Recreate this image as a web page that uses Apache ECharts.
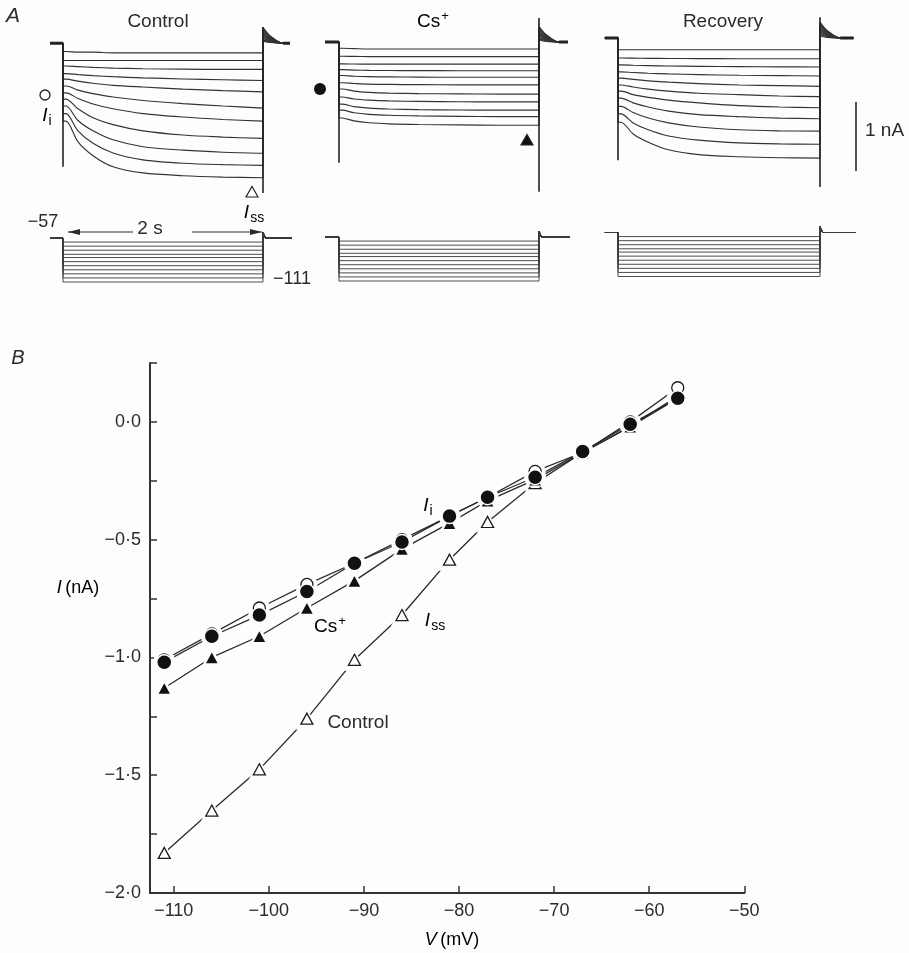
<!DOCTYPE html>
<html>
<head>
<meta charset="utf-8">
<script src="https://cdn.jsdelivr.net/npm/echarts@6/dist/echarts.min.js"></script>
<style>
  html, body { margin: 0; background: #fdfdfd; }
  #chart { width: 909px; height: 953px; }
</style>
</head>
<body>
<div id="chart"></div>
<script>
/* ---- panel A: current traces (nA) sampled at these times (s) ---- */
const STEP_TIMES = [0.03, 0.15, 0.3, 0.5, 0.8, 1.2, 1.6, 2.0]
const STEP_MV = [-62, -67, -72, -77, -81, -86, -91, -96, -101, -106, -111]
const HOLD_MV = -57
const OFF_SPIKE_MV = -50

const CTRL_TRACES = [
  [0.00, -0.01, -0.01, -0.02, -0.02, -0.02, -0.02, -0.02],
  [-0.13, -0.13, -0.13, -0.13, -0.13, -0.13, -0.13, -0.13],
  [-0.21, -0.22, -0.23, -0.24, -0.25, -0.255, -0.26, -0.26],
  [-0.32, -0.335, -0.35, -0.365, -0.382, -0.398, -0.41, -0.42],
  [-0.40, -0.43, -0.46, -0.49, -0.515, -0.545, -0.567, -0.585],
  [-0.50, -0.56, -0.61, -0.66, -0.71, -0.756, -0.79, -0.82],
  [-0.60, -0.68, -0.76, -0.83, -0.90, -0.95, -0.985, -1.01],
  [-0.69, -0.83, -0.96, -1.06, -1.15, -1.21, -1.24, -1.26],
  [-0.79, -1.00, -1.15, -1.28, -1.38, -1.43, -1.46, -1.475],
  [-0.90, -1.15, -1.33, -1.47, -1.57, -1.62, -1.64, -1.65],
  [-1.01, -1.31, -1.51, -1.67, -1.76, -1.80, -1.82, -1.83]
]
const CS_TRACES = [
  [-0.01, -0.015, -0.02, -0.02, -0.02, -0.02, -0.02, -0.02],
  [-0.126, -0.128, -0.13, -0.13, -0.13, -0.13, -0.13, -0.13],
  [-0.236, -0.238, -0.24, -0.24, -0.24, -0.24, -0.24, -0.24],
  [-0.32, -0.326, -0.33, -0.332, -0.334, -0.335, -0.335, -0.335],
  [-0.405, -0.415, -0.421, -0.425, -0.428, -0.43, -0.43, -0.43],
  [-0.51, -0.52, -0.53, -0.534, -0.537, -0.54, -0.54, -0.54],
  [-0.60, -0.63, -0.648, -0.66, -0.667, -0.67, -0.674, -0.674],
  [-0.716, -0.745, -0.762, -0.773, -0.78, -0.785, -0.787, -0.787],
  [-0.82, -0.855, -0.877, -0.89, -0.899, -0.904, -0.907, -0.907],
  [-0.907, -0.944, -0.967, -0.981, -0.99, -0.996, -1.0, -1.0],
  [-1.02, -1.062, -1.089, -1.105, -1.115, -1.121, -1.126, -1.126]
]
const REC_TRACES = [
  [-0.04, -0.04, -0.04, -0.04, -0.04, -0.04, -0.04, -0.04],
  [-0.16, -0.162, -0.164, -0.166, -0.168, -0.17, -0.17, -0.17],
  [-0.26, -0.265, -0.27, -0.275, -0.28, -0.285, -0.288, -0.29],
  [-0.36, -0.37, -0.38, -0.39, -0.40, -0.41, -0.415, -0.42],
  [-0.45, -0.47, -0.49, -0.51, -0.53, -0.55, -0.56, -0.57],
  [-0.55, -0.58, -0.61, -0.64, -0.67, -0.69, -0.71, -0.72],
  [-0.64, -0.69, -0.73, -0.77, -0.81, -0.85, -0.87, -0.88],
  [-0.74, -0.81, -0.87, -0.93, -0.98, -1.01, -1.03, -1.04],
  [-0.86, -0.95, -1.03, -1.10, -1.16, -1.20, -1.215, -1.22],
  [-0.97, -1.10, -1.20, -1.29, -1.35, -1.39, -1.405, -1.41],
  [-1.09, -1.26, -1.38, -1.49, -1.56, -1.59, -1.605, -1.61]
]
// tail currents above holding level right after the step (nA)
const TAIL_PEAK = [0.03, 0.05, 0.07, 0.09, 0.11, 0.13, 0.15, 0.17, 0.19, 0.21, 0.23]
const TAIL_MID = [0.01, 0.02, 0.03, 0.04, 0.05, 0.06, 0.07, 0.08, 0.09, 0.10, 0.11]

const CTRL_HOLD = 0.12
const CS_HOLD = 0.08
const REC_HOLD = 0.13
// capacitive artefacts [top, bottom] in nA
const CTRL_SPIKE_ON = [0.12, -1.67]
const CTRL_SPIKE_OFF = [0.355, -2.05]
const CS_SPIKE_ON = [0.08, -1.67]
const CS_SPIKE_OFF = [0.43, -2.09]
const REC_SPIKE_ON = [0.13, -1.64]
const REC_SPIKE_OFF = [0.43, -2.03]

/* ---- panel B: I-V data ---- */
const V_MV = [-111, -106, -101, -96, -91, -86, -81, -77, -72, -67, -62, -57]
const CTRL_II = [-1.01, -0.90, -0.79, -0.69, -0.60, -0.50, -0.40, -0.32, -0.21, -0.13, 0.00, 0.145]
const CS_II = [-1.02, -0.91, -0.82, -0.72, -0.60, -0.51, -0.40, -0.32, -0.235, -0.126, -0.01, 0.10]
const CS_ISS = [-1.13, -1.00, -0.91, -0.79, -0.675, -0.54, -0.43, -0.335, -0.245, -0.13, -0.02, 0.10]
const CTRL_ISS = [-1.83, -1.65, -1.475, -1.26, -1.01, -0.82, -0.585, -0.425, -0.26, -0.13, -0.02, 0.11]
const X_TICKS = [-110, -100, -90, -80, -70, -60, -50]
const Y_TICKS = [0.25, 0, -0.25, -0.5, -0.75, -1.0, -1.25, -1.5, -1.75, -2.0]
const Y_LABELS = [0, -0.5, -1.0, -1.5, -2.0]

const FONT = '"Liberation Sans", Arial, sans-serif'
const INK = '#2b2b2b'
const BG = '#fdfdfd'
const NA_PX = 69
const MV_PX = 0.815

const panels = [
  { traces: CTRL_TRACES, hold: CTRL_HOLD, on: CTRL_SPIKE_ON, off: CTRL_SPIKE_OFF,
    t0x: 63, pxPerS: 100, zeroY: 51.5, vY: 238, tPre: -0.13, tPost: 2.27 },
  { traces: CS_TRACES, hold: CS_HOLD, on: CS_SPIKE_ON, off: CS_SPIKE_OFF,
    t0x: 339, pxPerS: 100, zeroY: 47.6, vY: 237, tPre: -0.14, tPost: 2.29 },
  { traces: REC_TRACES, hold: REC_HOLD, on: REC_SPIKE_ON, off: REC_SPIKE_OFF,
    t0x: 618, pxPerS: 101, zeroY: 47, vY: 232.5, tPre: -0.13, tPost: 2.33 }
]

const grid = [], xAxis = [], yAxis = [], series = []

panels.forEach((p, k) => {
  const left = p.t0x - 0.15 * p.pxPerS
  const width = 2.5 * p.pxPerS
  // current grid
  grid.push({ left: left, top: p.zeroY - 0.5 * NA_PX, width: width, height: 2.7 * NA_PX })
  xAxis.push({ gridIndex: 2 * k, type: 'value', min: -0.15, max: 2.35, show: false })
  yAxis.push({ gridIndex: 2 * k, type: 'value', min: -2.2, max: 0.5, show: false })
  // voltage grid
  grid.push({ left: left, top: p.vY - 12 * MV_PX, width: width, height: 70 * MV_PX })
  xAxis.push({ gridIndex: 2 * k + 1, type: 'value', min: -0.15, max: 2.35, show: false })
  yAxis.push({ gridIndex: 2 * k + 1, type: 'value', min: -115, max: -45, show: false })

  p.traces.forEach((tr, i) => {
    const data = [[p.tPre, p.hold], [0, p.hold], [0, tr[0]]]
    STEP_TIMES.forEach((t, j) => data.push([t, tr[j]]))
    data.push([2.0, p.hold + TAIL_PEAK[i]], [2.07, p.hold + TAIL_MID[i]], [2.2, p.hold], [p.tPost, p.hold])
    series.push({
      type: 'line', xAxisIndex: 2 * k, yAxisIndex: 2 * k, data: data,
      symbol: 'none', smooth: 0.3, silent: true,
      lineStyle: { color: '#333', width: 1.15 }
    })
  })
  // capacitive spikes
  ;[[0, p.on], [2.0, p.off]].forEach(([t, s]) => {
    series.push({
      type: 'line', xAxisIndex: 2 * k, yAxisIndex: 2 * k,
      data: [[t, s[0]], [t, s[1]]], symbol: 'none', silent: true,
      lineStyle: { color: '#222', width: 1.6 }
    })
  })
  // holding current segments, thick (many overlapping sweeps)
  ;[[p.tPre, 0], [2.2, p.tPost]].forEach(([a, b]) => {
    series.push({
      type: 'line', xAxisIndex: 2 * k, yAxisIndex: 2 * k,
      data: [[a, p.hold], [b, p.hold]], symbol: 'none', silent: true,
      lineStyle: { color: '#222', width: 3 }
    })
  })
  // voltage steps
  STEP_MV.forEach((v) => {
    series.push({
      type: 'line', xAxisIndex: 2 * k + 1, yAxisIndex: 2 * k + 1,
      data: [[p.tPre, HOLD_MV], [0, HOLD_MV], [0, v], [2.0, v], [2.0, OFF_SPIKE_MV], [2.025, HOLD_MV], [p.tPost + 0.02, HOLD_MV]],
      symbol: 'none', silent: true,
      lineStyle: { color: '#3a3a3a', width: 0.9 }
    })
  })
})

/* ---- panel B grid ---- */
grid.push({ left: 150, top: 363, width: 594.3, height: 530 })
const fmtY = (v) => (v < 0 ? '\u2212' : '') + Math.abs(v).toFixed(1).replace('.', '\u00b7')
xAxis.push({
  gridIndex: 6, type: 'value', min: -112.5, max: -50,
  splitLine: { show: false },
  axisLine: { onZero: false, lineStyle: { color: '#333', width: 2 } },
  axisTick: { inside: true, length: 7, customValues: X_TICKS, lineStyle: { color: '#333', width: 1.5 } },
  axisLabel: { customValues: X_TICKS, margin: 9, fontSize: 18, fontFamily: FONT, color: INK,
    formatter: (v) => '\u2212' + Math.abs(v) }
})
yAxis.push({
  gridIndex: 6, type: 'value', min: -2.0, max: 0.25,
  splitLine: { show: false },
  axisLine: { onZero: false, lineStyle: { color: '#333', width: 2 } },
  axisTick: { inside: true, length: 7, customValues: Y_TICKS, lineStyle: { color: '#333', width: 1.5 } },
  axisLabel: { customValues: Y_LABELS, margin: 9, fontSize: 18, fontFamily: FONT, color: INK, formatter: fmtY }
})

const pts = (ys) => V_MV.map((v, i) => [v, ys[i]])
;[CTRL_II, CS_II, CS_ISS, CTRL_ISS].forEach((ys) => {
  series.push({
    type: 'line', xAxisIndex: 6, yAxisIndex: 6, data: pts(ys), symbol: 'none', silent: true, z: 1,
    lineStyle: { color: '#2a2a2a', width: 1.3 }
  })
})
// white halos that cut the lines short of the markers
;[[CTRL_ISS, 'triangle', 22], [CS_ISS, 'triangle', 22], [CTRL_II, 'circle', 21], [CS_II, 'circle', 22]].forEach(([ys, sym, size]) => {
  series.push({
    type: 'scatter', xAxisIndex: 6, yAxisIndex: 6, data: pts(ys), symbol: sym, symbolSize: size,
    silent: true, z: 2, itemStyle: { color: BG, opacity: 1 }
  })
})
series.push(
  { type: 'scatter', xAxisIndex: 6, yAxisIndex: 6, data: pts(CTRL_ISS), symbol: 'triangle', symbolSize: [12, 11],
    silent: true, z: 3, itemStyle: { color: '#fff', borderColor: '#1a1a1a', borderWidth: 1.3, opacity: 1 } },
  { type: 'scatter', xAxisIndex: 6, yAxisIndex: 6, data: pts(CS_ISS), symbol: 'triangle', symbolSize: [14, 13],
    silent: true, z: 4, itemStyle: { color: '#111', borderColor: BG, borderWidth: 1.5, opacity: 1 } },
  { type: 'scatter', xAxisIndex: 6, yAxisIndex: 6, data: pts(CTRL_II), symbol: 'circle', symbolSize: 12,
    silent: true, z: 5, itemStyle: { color: '#fff', borderColor: '#1a1a1a', borderWidth: 1.3, opacity: 1 } },
  { type: 'scatter', xAxisIndex: 6, yAxisIndex: 6, data: pts(CS_II), symbol: 'circle', symbolSize: 15,
    silent: true, z: 6, itemStyle: { color: '#111', borderColor: BG, borderWidth: 1.5, opacity: 1 } }
)

/* ---- text and annotation marks ---- */
const txt = (x, y, text, size, extra) => ({
  type: 'text', x: x, y: y, silent: true,
  style: Object.assign({ text: text, font: size + 'px ' + FONT, fill: INK, align: 'center', verticalAlign: 'middle' }, extra || {})
})
const richSub = (size) => ({
  it: { fontStyle: 'italic', fontSize: size, fontFamily: FONT, color: INK },
  sub: { fontSize: size - 5, fontFamily: FONT, color: INK, padding: [size * 0.55, 0, 0, 1] },
  sup: { fontSize: size - 6, fontFamily: FONT, color: INK, padding: [0, 0, size * 0.55, 1] },
  n: { fontSize: size, fontFamily: FONT, color: INK }
})
const rtxt = (x, y, text, size) => ({
  type: 'text', x: x, y: y, silent: true,
  style: { text: text, rich: richSub(size), align: 'center', verticalAlign: 'middle' }
})
const tri = (cx, cy, filled) => ({
  type: 'polygon', silent: true,
  shape: { points: [[cx, cy - 5.5], [cx + 6, cy + 5], [cx - 6, cy + 5]] },
  style: { fill: filled ? '#111' : '#fff', stroke: '#222', lineWidth: 1.2 }
})
const line = (x1, y1, x2, y2, w) => ({
  type: 'line', silent: true, shape: { x1: x1, y1: y1, x2: x2, y2: y2 },
  style: { stroke: '#2a2a2a', lineWidth: w || 1.2 }
})

const graphic = [
  txt(13, 16, 'A', 21, { font: 'italic 21px ' + FONT }),
  txt(158, 22, 'Control', 19),
  rtxt(433, 22, '{n|Cs}{sup|+}', 19),
  txt(723, 22, 'Recovery', 19),
  // I_i marker
  { type: 'circle', silent: true, shape: { cx: 45, cy: 95, r: 5 }, style: { fill: '#fff', stroke: '#222', lineWidth: 1.3 } },
  rtxt(47, 116, '{it|I}{sub|i}', 19),
  { type: 'circle', silent: true, shape: { cx: 320, cy: 89, r: 6 }, style: { fill: '#111' } },
  tri(527, 140, true),
  tri(252, 192, false),
  rtxt(254, 213, '{it|I}{sub|ss}', 19),
  // 1 nA bar
  line(856, 102, 856, 171, 1.6),
  txt(865, 131, '1 nA', 19, { align: 'left' }),
  // voltage labels and 2 s arrow
  txt(43, 222, '\u221257', 18),
  txt(292, 279, '\u2212111', 18),
  line(68, 232, 133, 232, 1.1),
  line(192, 232, 262, 232, 1.1),
  { type: 'polygon', silent: true, shape: { points: [[68, 232], [80, 229], [80, 235]] }, style: { fill: '#2a2a2a' } },
  { type: 'polygon', silent: true, shape: { points: [[262, 232], [250, 229], [250, 235]] }, style: { fill: '#2a2a2a' } },
  txt(150, 229, '2 s', 19),
  // panel B
  txt(18, 358, 'B', 20, { font: 'italic 20px ' + FONT }),
  rtxt(78, 588, '{it|I} {n|(nA)}', 18),
  rtxt(452, 940, '{it|V} {n|(mV)}', 18),
  rtxt(428, 506, '{it|I}{sub|i}', 19),
  rtxt(330, 627, '{n|Cs}{sup|+}', 19),
  rtxt(435, 621, '{it|I}{sub|ss}', 19),
  txt(358, 723, 'Control', 19)
]

const chart = echarts.init(document.getElementById('chart'), null, { renderer: 'canvas' })
chart.setOption({
  backgroundColor: BG,
  animation: false,
  grid: grid,
  xAxis: xAxis,
  yAxis: yAxis,
  series: series,
  graphic: graphic
})
</script>
</body>
</html>
